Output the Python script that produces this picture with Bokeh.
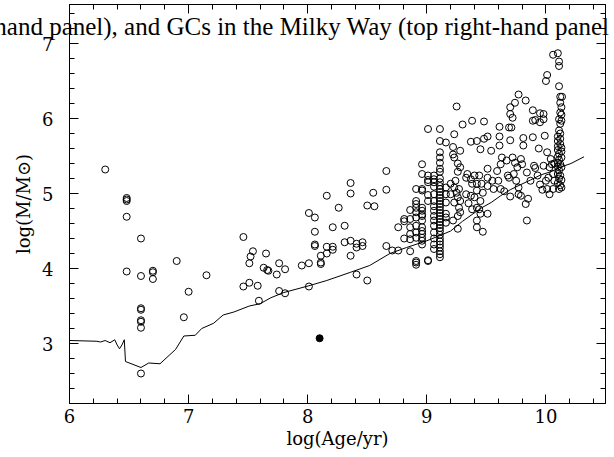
import numpy as np
from bokeh.plotting import figure
from bokeh.models import Range1d, LinearAxis, Title, FixedTicker, SingleIntervalTicker
from bokeh.embed import file_html
from bokeh.resources import INLINE

# ---------------- data ----------------
x_major = [6, 7, 8, 9, 10]
y_major = [3, 4, 5, 6, 7]

# star clusters / GCs (open circles): log(Age/yr), log(M/Msun)
gc_age = [
    6.30, 6.48, 6.48, 6.48, 6.48, 6.48, 6.60, 6.60, 6.60, 6.60, 6.60, 6.60, 6.60, 6.60,
    6.70, 6.70, 6.70, 6.90, 6.96, 7.00, 7.15, 7.46, 7.54, 7.52, 7.51, 7.46, 7.51, 7.58, 7.59,
    7.65, 7.63, 7.66, 7.67, 7.76, 7.81, 7.74, 7.76, 7.81, 7.95, 8.01, 8.01, 8.01, 8.06, 8.06,
    8.06, 8.06, 8.11, 8.11, 8.11, 8.16, 8.16, 8.16, 8.21, 8.21, 8.21, 8.26, 8.31, 8.31, 8.36,
    8.36, 8.36, 8.36, 8.41, 8.41, 8.46, 8.46, 8.41, 8.50, 8.56, 8.55, 8.50, 8.66, 8.66, 8.66,
    8.71, 8.76, 8.86, 8.76, 8.81, 8.81, 8.81, 8.86, 8.86, 8.86, 8.86, 8.86,
    8.91, 8.96, 8.96, 8.96, 8.96, 8.91, 8.91, 8.91, 8.91, 8.91, 8.91, 8.91, 8.91, 8.91, 8.91,
    8.91, 8.96, 8.96, 8.96, 8.96, 8.96, 8.96, 8.96, 8.96, 8.96, 8.96, 8.96,
    9.01, 9.01, 9.01, 9.01, 9.01, 9.01, 9.01, 9.01,
    9.06, 9.06, 9.06, 9.06, 9.06, 9.06, 9.06, 9.06, 9.06, 9.06, 9.06, 9.06, 9.06, 9.06, 9.06,
    9.11, 9.11, 9.11, 9.11, 9.11, 9.11, 9.11,
    9.11, 9.11, 9.11, 9.11, 9.11, 9.11, 9.11, 9.11, 9.11, 9.11, 9.11, 9.11, 9.11, 9.11, 9.11,
    9.11, 9.11, 9.11, 9.11, 9.11, 9.11, 9.11, 9.11, 9.11, 9.11, 9.11,
    9.16, 9.16, 9.16, 9.16, 9.16, 9.16, 9.16,
    9.25, 9.23, 9.22, 9.28, 9.30, 9.38, 9.48, 9.37, 9.42, 9.48, 9.51, 9.45, 9.54, 9.61, 9.69,
    9.71, 9.61, 9.61, 9.70, 9.77, 9.74, 9.83, 9.70, 9.70, 9.72, 9.89, 9.95, 9.98, 9.81, 9.81,
    9.89, 9.94, 9.89, 9.91, 9.95, 9.98, 9.99, 10.01, 9.79, 9.74, 9.80, 9.72, 9.76, 9.84, 9.90,
    9.91, 9.98, 9.93, 9.87, 10.00, 10.01, 10.03, 9.23, 9.22, 9.26, 9.28, 9.26, 9.34, 9.33,
    9.37, 9.40, 9.44, 9.38, 9.42, 9.46, 9.24, 9.20, 9.23, 9.27, 9.25, 9.20, 9.26, 9.28, 9.23,
    9.27, 9.26, 9.28, 9.22, 9.26, 9.33, 9.37, 9.42, 9.40, 9.47, 9.35, 9.42, 9.38, 9.44, 9.45,
    9.45, 9.42, 9.42, 9.47, 9.51, 9.51, 9.51, 9.55, 9.51, 9.56, 9.60, 9.59, 9.62, 9.63, 9.67,
    9.62, 9.65, 9.68, 9.69, 9.73, 9.75, 9.77, 9.70, 9.77, 9.79, 9.83, 9.84, 9.85, 9.95, 9.97,
    10.06, 10.10, 10.11, 10.11, 10.01, 10.00, 10.11, 10.12, 10.135, 10.12, 10.13, 10.12, 10.13,
    10.11, 10.13, 10.12, 10.11, 10.12, 10.10, 10.12, 10.10, 10.12, 10.10, 10.13, 10.10, 10.13,
    10.11, 10.10, 10.13, 10.11, 10.10, 10.12, 10.10, 10.13, 10.11, 10.10, 10.12, 10.11, 10.13,
    10.10, 10.12, 10.13, 10.11, 10.04, 10.05, 10.03, 10.06, 10.02, 10.07, 10.07, 10.06,
]
gc_mass = [
    5.32, 4.94, 4.92, 4.90, 4.69, 3.96, 4.40, 3.90, 3.47, 3.45, 3.31, 3.29, 3.21, 2.60,
    3.97, 3.95, 3.86, 4.10, 3.35, 3.69, 3.91, 4.42, 4.23, 4.16, 4.07, 3.76, 3.81, 3.77, 3.57,
    4.20, 4.01, 3.98, 3.97, 4.07, 3.99, 3.92, 3.70, 3.67, 4.04, 4.07, 3.76, 4.74, 4.68, 4.49,
    4.32, 4.30, 4.17, 4.08, 4.06, 4.97, 4.29, 4.20, 4.55, 4.29, 4.25, 4.81, 4.57, 4.35, 5.14,
    5.00, 4.37, 4.17, 4.33, 4.28, 4.35, 4.30, 3.92, 4.84, 4.83, 5.01, 3.84, 5.30, 5.05, 4.30,
    4.24, 4.24, 4.23, 4.55, 4.66, 4.63, 4.40, 4.78, 4.66, 4.55, 4.46, 4.39,
    5.06, 5.39, 5.26, 5.06, 5.04, 4.90, 4.86, 4.81, 4.75, 4.68, 4.57, 4.48, 4.41, 4.10, 4.08,
    4.05, 4.81, 4.77, 4.72, 4.70, 4.64, 4.55, 4.50, 4.46, 4.41, 4.37, 4.32,
    5.86, 5.24, 5.18, 5.15, 4.98, 4.90, 4.11, 4.10,
    5.24, 5.19, 5.15, 5.09, 4.99, 4.90, 4.83, 4.77, 4.70, 4.64, 4.57, 4.48, 4.40, 4.32, 4.26,
    5.86, 5.70, 5.55, 5.48, 5.41, 5.33, 5.29,
    5.20, 5.15, 5.10, 5.06, 5.02, 4.98, 4.94, 4.90, 4.86, 4.82, 4.78, 4.74, 4.70, 4.66, 4.62,
    4.58, 4.54, 4.50, 4.45, 4.40, 4.36, 4.32, 4.28, 4.23, 4.19, 4.15,
    5.68, 5.08, 4.99, 4.88, 4.73, 4.68, 4.61,
    6.16, 5.79, 5.62, 5.57, 5.92, 5.97, 5.96, 5.69, 5.70, 5.73, 5.76, 5.59, 5.57, 5.89, 5.88,
    5.88, 5.76, 5.64, 5.71, 6.32, 6.21, 6.24, 6.15, 6.06, 6.01, 6.11, 6.07, 6.06, 5.74, 5.64,
    5.75, 5.60, 5.97, 5.98, 5.95, 5.99, 5.77, 5.55, 5.46, 5.41, 5.39, 5.48, 5.35, 5.28, 5.37,
    5.34, 5.37, 5.24, 5.17, 5.17, 5.06, 4.99, 5.48, 5.52, 5.40, 5.35, 5.29, 5.26, 5.21,
    5.19, 5.24, 5.24, 5.13, 5.13, 5.13, 5.17, 5.13, 5.08, 5.06, 5.01, 4.99, 4.95, 4.90, 4.88,
    4.81, 4.70, 4.75, 4.64, 4.53, 4.99, 4.97, 5.04, 4.95, 5.01, 4.87, 4.81, 4.79, 4.79, 4.90,
    4.73, 4.64, 4.55, 4.49, 4.73, 5.33, 5.21, 5.17, 5.10, 5.06, 5.17, 5.30, 5.39, 5.48, 5.44,
    5.06, 5.03, 5.24, 5.21, 5.26, 5.17, 5.08, 4.96, 4.99, 4.97, 4.86, 4.64, 4.93, 5.12, 5.05,
    6.85, 6.87, 6.76, 6.70, 6.58, 6.50, 6.43, 6.29, 6.29, 6.21, 6.15, 6.08, 6.05,
    5.99, 5.97, 5.93, 5.84, 5.80, 5.76, 5.73, 5.70, 5.66, 5.63, 5.61, 5.58, 5.56,
    5.53, 5.49, 5.48, 5.45, 5.41, 5.39, 5.36, 5.35, 5.31, 5.26, 5.24, 5.20, 5.18,
    5.14, 5.11, 5.08, 5.06, 5.46, 5.39, 5.35, 5.26, 5.21, 5.17, 5.40, 5.06,
]

# single filled point
dot_age = [8.10]
dot_mass = [3.07]

# model curve
curve_age = [6.00, 6.23, 6.26, 6.30, 6.34, 6.38, 6.40, 6.42, 6.44, 6.46, 6.47, 6.60, 6.665,
             6.76, 6.89, 6.96, 7.056, 7.11, 7.21, 7.29, 7.38, 7.51, 7.60, 7.69, 7.80, 8.01,
             8.16, 8.36, 8.52, 8.69, 8.83, 9.00, 9.11, 9.20, 9.30, 9.38, 9.45, 9.54, 9.62,
             9.70, 9.79, 9.87, 9.96, 10.04, 10.12, 10.21, 10.32]
curve_mass = [3.04, 3.03, 3.02, 3.04, 3.01, 3.05, 2.98, 2.93, 2.98, 3.05, 2.76, 2.68, 2.74,
              2.73, 2.92, 3.10, 3.11, 3.20, 3.27, 3.38, 3.42, 3.50, 3.53, 3.61, 3.68, 3.77,
              3.84, 3.95, 4.04, 4.20, 4.28, 4.37, 4.44, 4.50, 4.63, 4.72, 4.80, 4.88, 4.97,
              5.05, 5.12, 5.18, 5.25, 5.29, 5.35, 5.40, 5.49]

caption = "hand panel), and GCs in the Milky Way (top right-hand panel"
x_label = "log(Age/yr)"
y_label = "log(M/M\u2299)"

# ---------------- figure ----------------
p = figure(frame_width=536, frame_height=399,
           x_range=Range1d(6, 10.5), y_range=Range1d(2.2, 7.52),
           output_backend="svg", toolbar_location=None,
           min_border_left=69, min_border_top=4, min_border_right=8, min_border_bottom=0)
p.grid.visible = False
p.outline_line_color = "black"
p.outline_line_width = 1
p.background_fill_color = "white"
p.border_fill_color = "white"

axis_font = "DejaVu Serif"

def inward(ax, major=9, minor=5):
    ax.major_tick_in = major
    ax.major_tick_out = 0
    ax.minor_tick_in = minor
    ax.minor_tick_out = 0
    ax.axis_line_color = "black"
    ax.major_tick_line_color = "black"
    ax.minor_tick_line_color = "black"

p.xaxis.ticker = SingleIntervalTicker(interval=1, num_minor_ticks=5)
p.yaxis.ticker = SingleIntervalTicker(interval=1, num_minor_ticks=5)
for ax in p.xaxis + p.yaxis:
    inward(ax)
    ax.major_label_text_font = axis_font
    ax.major_label_text_font_size = "18px"
    ax.major_label_text_color = "black"
    ax.axis_label_text_font = axis_font
    ax.axis_label_text_font_size = "18px"
    ax.axis_label_text_font_style = "normal"
    ax.axis_label_text_color = "black"

p.xaxis.axis_label = x_label
p.yaxis.axis_label = y_label
p.xaxis.major_label_standoff = 5
p.xaxis.axis_label_standoff = 2
p.yaxis.major_label_standoff = 16
p.yaxis.axis_label_standoff = 5
p.yaxis.major_label_orientation = "horizontal"

# tick marks on the top and right edges (no labels)
x_minor = [float(v) for v in np.arange(6.0, 10.51, 0.2)]
y_minor = [float(v) for v in np.arange(2.2, 7.52, 0.2)]
for side, majors, minors in (("above", x_major, x_minor), ("right", y_major, y_minor)):
    for pos, ln in ((majors, 9), (minors, 5)):
        ax = LinearAxis(ticker=FixedTicker(ticks=[], minor_ticks=pos))
        ax.major_tick_in = 0
        ax.major_tick_out = 0
        ax.minor_tick_in = ln
        ax.minor_tick_out = 0
        ax.axis_line_color = "black"
        ax.minor_tick_line_color = "black"
        ax.major_label_standoff = 0
        p.add_layout(ax, side)

p.line(curve_age, curve_mass, line_color="black", line_width=1)
p.scatter(gc_age, gc_mass, marker="circle", size=7, fill_color=None,
          line_color="black", line_width=1)
p.scatter(dot_age, dot_mass, marker="circle", size=7, fill_color="black",
          line_color="black")

cap = Title(text=caption, align="right", vertical_align="bottom",
            standoff=-70, offset=-4,
            text_font="Liberation Serif", text_font_size="25px",
            text_font_style="normal", text_color="black")
p.add_layout(cap, "above")

open("out.html", "w").write(file_html(p, INLINE))
